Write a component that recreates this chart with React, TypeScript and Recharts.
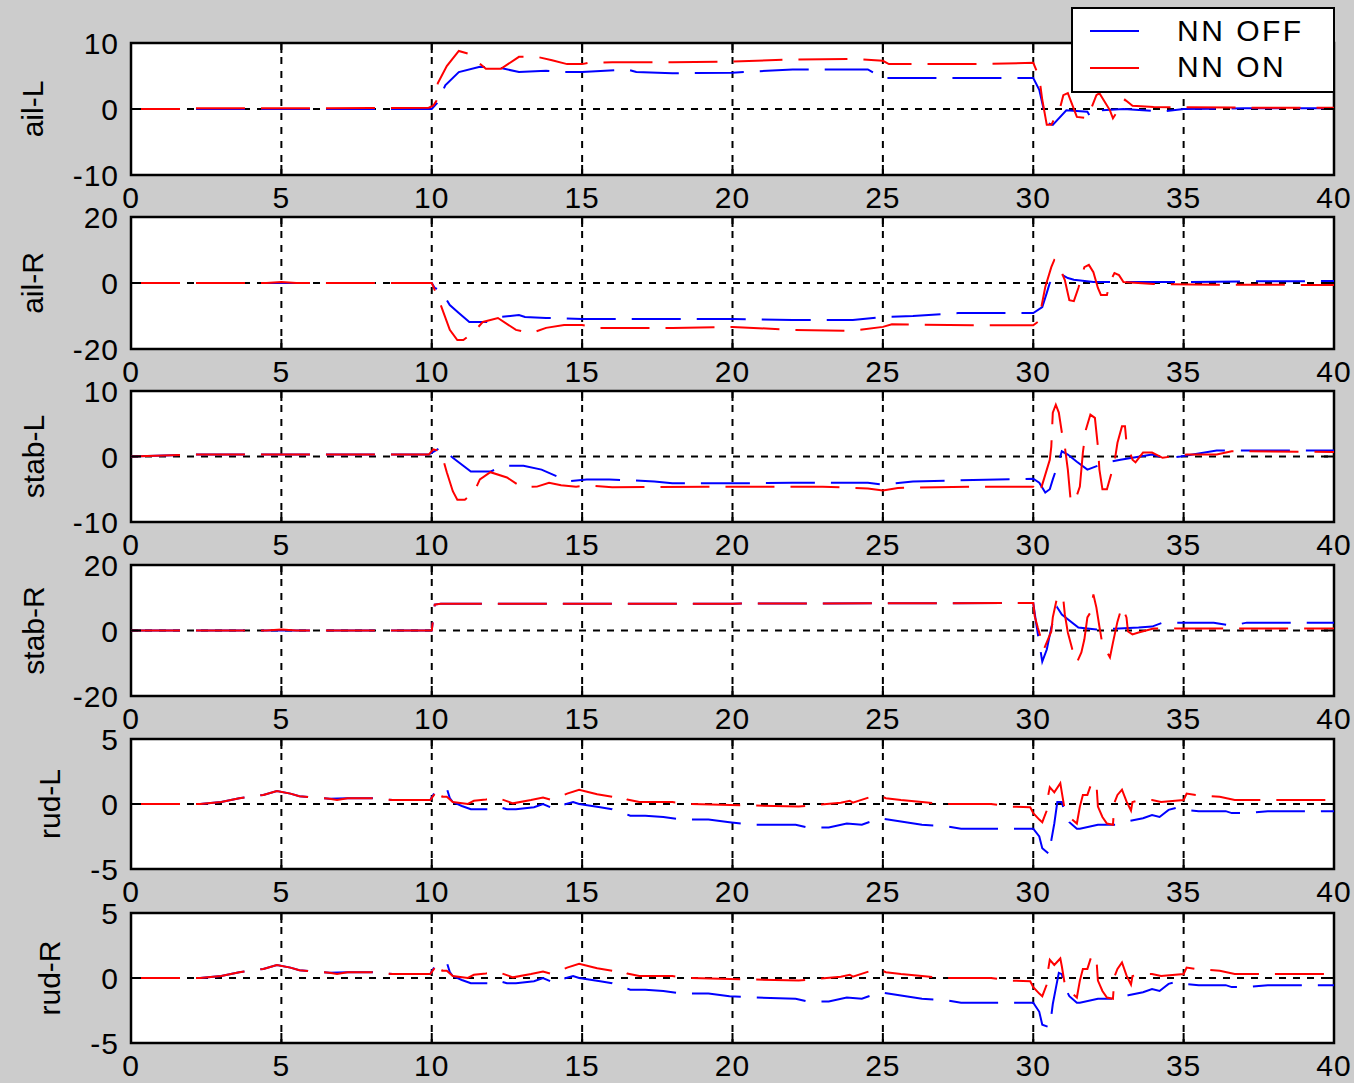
import React from "react";
import {
  LineChart,
  Line,
  XAxis,
  YAxis,
  CartesianGrid,
  ReferenceArea,
  Label,
} from "recharts";

type Pt = [number, number];

const xTicks = [0, 5, 10, 15, 20, 25, 30, 35, 40];

// ---- ail-L ----
const ailLOff: Pt[] = [
  [0, 0], [10, 0], [10.1, 0.5], [10.2, 1.0], [10.45, 3.6], [10.9, 5.6], [11.6, 6.4],
  [12.3, 6.2], [12.9, 5.6], [13.8, 5.8], [14.3, 5.6], [15, 5.6], [16.5, 6.0], [16.8, 5.6],
  [18, 5.4], [20, 5.5], [22, 6.0], [24.5, 6.0], [25, 4.7], [28, 4.7], [30, 4.7], [30.2, 2.9],
  [30.45, -2.1], [30.65, -2.4], [31.1, -0.2], [31.8, -0.4], [31.9, -1.2], [32.2, -0.2],
  [33, 0], [34.3, -0.4], [35, 0], [37, 0.1], [40, 0.1],
];
const ailLOn: Pt[] = [
  [0, 0], [1.7, 0], [2, 0.1], [5, 0.1], [8, 0.15], [9.9, 0.2], [10.05, 0.5], [10.15, 1.2],
  [10.2, 3.9], [10.5, 6.5], [10.9, 8.8], [11.2, 8.4], [11.8, 6.1], [12.3, 6.1], [12.9, 7.9],
  [13.5, 7.9], [14, 7.4], [14.5, 6.8], [15, 6.8], [15.2, 7.0], [16, 7.1], [18, 7.1], [20, 7.2],
  [22, 7.5], [24, 7.6], [25, 7.3], [25.2, 6.8], [28, 6.8], [30, 7.0], [30.2, 4.8], [30.3, 1.4],
  [30.45, -2.4], [30.6, -2.4], [30.9, 0.3], [31.0, 2.1], [31.15, 2.4], [31.45, -1.2],
  [31.8, -1.4], [32.1, 2.1], [32.2, 2.4], [32.55, -0.2], [32.65, -1.4], [33.05, 1.4],
  [33.3, 0.5], [34, 0.3], [37, 0.2], [40, 0.2],
];

// ---- ail-R ----
const ailROff: Pt[] = [
  [0, 0], [10, 0], [10.1, -1.5], [10.3, -2.2], [10.6, -6.7], [10.9, -9.1], [11.25, -11.8],
  [11.9, -11.8], [12.3, -10.3], [12.9, -9.7], [13.1, -10.3], [13.8, -10.6], [15, -10.9],
  [20, -10.9], [22, -11.2], [24, -11.2], [25, -10.3], [26, -10], [27.5, -9.1], [30, -9.1],
  [30.3, -7.3], [30.45, -3], [30.55, 0], [30.85, 3.0], [31.15, 1.5], [31.35, 1.0], [32, 0.3],
  [35, 0.3], [37, 0.5], [40, 0.6],
];
const ailROn: Pt[] = [
  [0, 0], [4.5, 0], [5, 0.3], [5.5, 0], [10, 0], [10.05, -1], [10.3, -6.7], [10.6, -14.2],
  [10.85, -17.3], [11.05, -17.3], [11.4, -14.8], [11.7, -11.8], [12.2, -10.6], [12.8, -14.2],
  [13.3, -15.2], [13.8, -13.6], [14.4, -12.7], [15, -12.7], [15.5, -13.6], [18, -13.6],
  [20, -13.3], [22, -14.2], [24, -14.5], [25, -13.3], [25.3, -12.5], [28, -12.8], [30, -12.8],
  [30.15, -11.8], [30.25, -8.2], [30.4, -1.2], [30.6, 4.8], [30.7, 7.0], [30.8, 6.4],
  [31.05, 0.9], [31.2, -5.2], [31.35, -5.5], [31.5, -1.5], [31.7, 4.8], [31.85, 5.5],
  [32.0, 3.3], [32.15, -1.5], [32.25, -3.6], [32.45, -3.6], [32.55, 0.3], [32.7, 3.0],
  [32.85, 2.4], [33.0, 0.3], [34, -0.3], [36, -0.5], [40, -0.6],
];

// ---- stab-L ----
const stabLOff: Pt[] = [
  [0, 0], [2, 0.3], [9.9, 0.3], [10.3, 1.4], [10.7, -0.2], [11.3, -2.3], [11.95, -2.3],
  [12.4, -1.4], [13.05, -1.4], [13.65, -2.0], [14.25, -3.2], [14.5, -3.8], [15.15, -3.5],
  [15.9, -3.5], [17.4, -3.8], [18, -4.1], [20, -4.1], [22, -4.0], [24.5, -4.0], [25, -4.3],
  [26, -3.8], [28, -3.6], [30, -3.4], [30.2, -4.0], [30.4, -5.5], [30.55, -5.0], [30.65, -3.5],
  [30.85, -0.8], [30.95, 0.8], [31.15, 0.3], [31.45, -0.8], [31.8, -2.0], [32.45, -0.9],
  [32.9, -0.5], [33.55, 0], [33.95, 0.3], [34.4, -0.3], [34.9, 0], [36.1, 0.9], [40, 0.9],
];
const stabLOn: Pt[] = [
  [0, 0], [2, 0.3], [9.9, 0.3], [10.05, 1.1], [10.3, 0.8], [10.5, -2.4], [10.7, -5.3],
  [10.85, -6.6], [11.1, -6.6], [11.4, -5.5], [11.6, -3.5], [11.95, -2.4], [12.5, -3.2],
  [13.0, -4.7], [13.5, -4.6], [13.9, -4.0], [14.3, -4.4], [14.8, -4.6], [15.2, -4.4],
  [16, -4.7], [20, -4.6], [23, -4.6], [24.5, -4.9], [25, -5.2], [25.5, -4.8], [28, -4.6],
  [30, -4.6], [30.2, -5.8], [30.55, -0.5], [30.6, 1.5], [30.65, 6.7], [30.75, 7.9],
  [30.85, 6.7], [30.95, 3.7], [31.05, 1.5], [31.15, -2.0], [31.25, -7.0], [31.4, -6.6],
  [31.55, -4.6], [31.65, 0.6], [31.75, 4.1], [31.9, 6.4], [32.05, 5.9], [32.15, 1.5],
  [32.2, -2.0], [32.3, -5.0], [32.45, -5.0], [32.7, -0.9], [32.8, 2.1], [32.95, 4.6],
  [33.05, 4.6], [33.1, 2.1], [33.3, -0.5], [33.4, -0.9], [33.65, 0.6], [33.95, 0.6],
  [34.3, -0.2], [34.6, 0], [35.1, 0.3], [36.1, 0.3], [36.6, 0.8], [40, 0.7],
];

// ---- stab-R ----
const stabROff: Pt[] = [
  [0, 0], [10, 0], [10.1, 7.9], [10.3, 8.2], [20, 8.2], [30, 8.4], [30.1, 2], [30.3, -9.5],
  [30.45, -5.8], [30.6, 0.9], [30.7, 4.0], [30.8, 7.0], [30.95, 4.9], [31.5, 0.9],
  [32.1, 0.3], [32.85, 0.6], [33.5, 0.9], [33.95, 1.2], [34.3, 2.4], [36, 2.4], [36.6, 1.5],
  [37.1, 2.4], [40, 2.4],
];
const stabROn: Pt[] = [
  [0, 0], [4.5, 0], [5, 0.3], [5.5, 0], [10, 0], [10.1, 7.9], [10.3, 8.2], [20, 8.2],
  [30, 8.4], [30.05, 4.3], [30.15, 0.9], [30.3, -3.7], [30.35, -5.8], [30.6, -0.3],
  [30.65, 4.0], [30.8, 10.4], [30.9, 11.0], [31.0, 9.5], [31.05, 4.9], [31.15, -0.6],
  [31.3, -5.8], [31.45, -9.8], [31.6, -6.7], [31.7, -2.7], [31.8, 4.0], [31.9, 5.5],
  [32.0, 11.0], [32.1, 7.0], [32.2, 1.2], [32.3, -4.3], [32.4, -5.8], [32.55, -8.2],
  [32.65, -3.7], [32.8, 2.7], [32.95, 7.3], [33.1, 4.0], [33.15, -0.3], [33.3, -1.2],
  [33.5, -0.6], [34, 0.6], [40, 0.6],
];

// ---- rud-L ----
const rudLOff: Pt[] = [
  [0, 0], [2.3, 0], [3.0, 0.15], [3.6, 0.45], [4.4, 0.7], [4.85, 1.0], [5.3, 0.8], [5.6, 0.6],
  [6.6, 0.4], [7.2, 0.45], [8.0, 0.45], [8.7, 0.3], [9.95, 0.3], [10.1, 0.9], [10.5, 1.2],
  [10.6, 0.45], [10.7, 0.15], [11.0, -0.15], [11.3, -0.4], [12.0, -0.4], [12.2, -0.2],
  [12.5, -0.4], [12.8, -0.4], [13.4, -0.25], [13.7, 0], [14.1, -0.4], [14.3, -0.1],
  [14.7, 0.15], [14.9, 0], [15.6, -0.25], [16.0, -0.4], [16.6, -0.9], [17.1, -0.9],
  [17.7, -1.0], [18.3, -1.2], [19.2, -1.2], [19.9, -1.4], [20.7, -1.6], [22.1, -1.6],
  [22.5, -1.8], [23.2, -1.8], [23.8, -1.5], [24.3, -1.6], [24.9, -1.1], [25.6, -1.35],
  [26.3, -1.6], [27.1, -1.7], [27.6, -1.9], [30.0, -1.9], [30.2, -2.5], [30.3, -3.4],
  [30.55, -3.9], [30.6, -2.8], [30.7, -1.5], [30.8, 0.15], [30.95, 0.15], [31.05, -0.7],
  [31.2, -1.4], [31.45, -1.9], [31.55, -1.9], [32.15, -1.6], [32.8, -1.6], [33.2, -1.3],
  [33.65, -1.1], [33.95, -0.85], [34.2, -1.0], [34.5, -0.45], [34.75, -0.3], [34.95, -0.45],
  [35.5, -0.55], [36.4, -0.55], [36.6, -0.7], [37.1, -0.7], [37.8, -0.55], [40, -0.55],
];
const rudLOn: Pt[] = [
  [0, 0], [2.3, 0], [3.0, 0.15], [3.6, 0.45], [4.4, 0.7], [4.85, 1.0], [5.3, 0.8], [5.6, 0.6],
  [6.6, 0.4], [6.85, 0.3], [7.2, 0.45], [8.0, 0.45], [8.7, 0.3], [9.95, 0.3], [10.2, 1.1],
  [10.3, 1.2], [10.35, 0.55], [10.5, 0.55], [10.7, 0.15], [11.2, 0], [11.4, 0.25],
  [11.8, 0.35], [12.15, 0.5], [12.4, 0.3], [12.7, 0.05], [13.3, 0.3], [13.7, 0.5],
  [14.0, 0.3], [14.5, 0.8], [14.9, 1.1], [15.5, 0.75], [16.0, 0.55], [16.25, 0.7],
  [16.5, 0.35], [16.9, 0.15], [18.0, 0.15], [18.5, 0], [20.5, -0.1], [22.2, -0.2],
  [23.6, 0.1], [23.9, 0.25], [24.0, 0.1], [24.8, 0.7], [25.1, 0.45], [25.6, 0.3],
  [26.3, 0.15], [27, 0], [28.6, 0], [29.2, -0.2], [29.9, -0.25], [30.0, -0.7], [30.2, -1.2],
  [30.3, -1.4], [30.45, -0.5], [30.5, 0.7], [30.55, 1.3], [30.7, 0.9], [30.9, 1.6],
  [30.95, 0.9], [31.05, -0.5], [31.2, -1.0], [31.45, -1.5], [31.55, -0.2], [31.65, 0.7],
  [31.8, 0.7], [31.95, 1.7], [32.1, 1.6], [32.15, -0.2], [32.3, -1.0], [32.45, -1.5],
  [32.65, -1.6], [32.7, 0.1], [32.8, 0.7], [32.95, 1.1], [33.1, 0.2], [33.25, -0.5],
  [33.3, 0.15], [33.55, 0.3], [33.95, 0.3], [34.25, 0.15], [35, 0.3], [35.1, 0.8],
  [35.4, 0.7], [36.2, 0.55], [36.7, 0.3], [40, 0.3],
];

// ---- rud-R ----
const rudROff: Pt[] = [
  [0, 0], [2.3, 0], [3.0, 0.15], [3.6, 0.45], [4.4, 0.7], [4.85, 1.0], [5.3, 0.8], [5.6, 0.6],
  [6.6, 0.4], [7.2, 0.45], [8.0, 0.45], [8.7, 0.3], [9.95, 0.3], [10.1, 0.9], [10.5, 1.2],
  [10.6, 0.45], [10.7, 0.15], [11.0, -0.15], [11.3, -0.4], [12.0, -0.4], [12.2, -0.2],
  [12.5, -0.4], [12.8, -0.4], [13.4, -0.25], [13.7, 0], [14.1, -0.4], [14.3, -0.1],
  [14.7, 0.15], [14.9, 0], [15.6, -0.25], [16.0, -0.4], [16.6, -0.9], [17.1, -0.9],
  [17.7, -1.0], [18.3, -1.2], [19.2, -1.2], [19.9, -1.4], [20.7, -1.5], [22.1, -1.6],
  [22.5, -1.8], [23.2, -1.8], [23.8, -1.5], [24.3, -1.6], [24.9, -1.1], [25.6, -1.35],
  [26.3, -1.6], [27.1, -1.7], [27.6, -1.9], [30.0, -1.9], [30.2, -2.6], [30.3, -3.6],
  [30.55, -3.8], [30.65, -2.0], [30.75, -0.8], [30.85, 0.4], [30.95, 0.3], [31.05, -0.7],
  [31.2, -1.4], [31.45, -1.9], [31.55, -1.9], [32.15, -1.6], [32.8, -1.6], [33.2, -1.3],
  [33.65, -1.1], [33.95, -0.85], [34.2, -1.0], [34.5, -0.45], [34.75, -0.3], [34.95, -0.45],
  [35.5, -0.55], [36.4, -0.55], [36.6, -0.7], [37.1, -0.7], [37.8, -0.55], [40, -0.55],
];
const rudROn: Pt[] = [
  [0, 0], [2.3, 0], [3.0, 0.15], [3.6, 0.45], [4.4, 0.7], [4.85, 1.0], [5.3, 0.8], [5.6, 0.6],
  [6.6, 0.4], [6.85, 0.3], [7.2, 0.45], [8.0, 0.45], [8.7, 0.3], [9.95, 0.3], [10.2, 1.1],
  [10.3, 1.2], [10.35, 0.55], [10.5, 0.55], [10.7, 0.15], [11.2, 0], [11.4, 0.25],
  [11.8, 0.35], [12.15, 0.5], [12.4, 0.3], [12.7, 0.05], [13.3, 0.3], [13.7, 0.5],
  [14.0, 0.3], [14.5, 0.8], [14.9, 1.1], [15.5, 0.75], [16.0, 0.55], [16.25, 0.7],
  [16.5, 0.35], [16.9, 0.15], [18.0, 0.15], [18.5, 0], [20.5, -0.1], [22.2, -0.2],
  [23.6, 0.1], [23.9, 0.25], [24.0, 0.1], [24.8, 0.7], [25.1, 0.45], [25.6, 0.3],
  [26.3, 0.15], [27, 0], [28.6, 0], [29.2, -0.2], [29.9, -0.25], [30.0, -0.7], [30.2, -1.2],
  [30.3, -1.4], [30.45, -0.5], [30.5, 0.7], [30.55, 1.4], [30.7, 1.0], [30.9, 1.5],
  [30.95, 0.9], [31.05, -0.5], [31.2, -1.0], [31.45, -1.5], [31.55, -0.2], [31.65, 0.7],
  [31.8, 0.7], [31.95, 1.8], [32.1, 1.5], [32.15, -0.2], [32.3, -1.0], [32.45, -1.5],
  [32.65, -1.6], [32.7, 0.1], [32.8, 0.7], [32.95, 1.2], [33.1, 0.2], [33.25, -0.5],
  [33.3, 0.15], [33.55, 0.3], [33.95, 0.3], [34.25, 0.15], [35, 0.3], [35.1, 0.8],
  [35.4, 0.7], [36.2, 0.55], [36.7, 0.3], [40, 0.3],
];

const panelNames = ["ail-L", "ail-R", "stab-L", "stab-R", "rud-L", "rud-R"];
const panelTicks = [
  [-10, 0, 10],
  [-20, 0, 20],
  [-10, 0, 10],
  [-20, 0, 20],
  [-5, 0, 5],
  [-5, 0, 5],
];
const offSeries = [ailLOff, ailROff, stabLOff, stabROff, rudLOff, rudROff];
const onSeries = [ailLOn, ailROn, stabLOn, stabROn, rudLOn, rudROn];

// layout (px)
const plotTops = [43, 217, 391, 565, 739, 913];
const plotHeights = [132, 132, 131, 131, 130, 130];
const labelXs = [43, 43, 44, 44, 60, 60];
const PLOT_LEFT = 131;
const PLOT_W = 1203;
const TOP_PAD = 20;
const X_AXIS_H = 45;

const FONT = '"Liberation Sans", Arial, Helvetica, sans-serif';
const BLUE = "#0000ff";
const RED = "#ff0000";
const DASH = "49 16";
const GRID_LINE = { stroke: "#000", strokeWidth: 2, strokeDasharray: "7 7" };

const toXY = (pts: Pt[]) => pts.map(([x, y]) => ({ x, y }));

interface PanelProps {
  index: number;
}

const Panel: React.FC<PanelProps> = ({ index }) => {
  const ticks = panelTicks[index];
  const plotH = plotHeights[index];
  const lo = ticks[0];
  const hi = ticks[ticks.length - 1];

  const XTick = (props: any) => {
    const { x, y, payload } = props;
    return (
      <g>
        <line x1={x} x2={x} y1={y} y2={y - 10} stroke="#000" strokeWidth={2} />
        <line x1={x} x2={x} y1={y - plotH} y2={y - plotH + 10} stroke="#000" strokeWidth={2} />
        <text
          x={x}
          y={y + 33}
          textAnchor="middle"
          fontSize={30}
          letterSpacing={1}
          fontFamily={FONT}
          fill="#000"
        >
          {payload.value}
        </text>
      </g>
    );
  };

  const YTick = (props: any) => {
    const { x, y, payload } = props;
    return (
      <g>
        <line x1={x} x2={x + 10} y1={y} y2={y} stroke="#000" strokeWidth={2} />
        <line x1={x + PLOT_W} x2={x + PLOT_W - 10} y1={y} y2={y} stroke="#000" strokeWidth={2} />
        <text
          x={x - 12}
          y={y + 11}
          textAnchor="end"
          fontSize={30}
          letterSpacing={1}
          fontFamily={FONT}
          fill="#000"
        >
          {payload.value}
        </text>
      </g>
    );
  };

  const labelX = labelXs[index];
  const labelY = TOP_PAD + plotH / 2;

  return (
    <div style={{ position: "absolute", left: 0, top: plotTops[index] - TOP_PAD }}>
      <LineChart
        width={PLOT_LEFT + PLOT_W + 20}
        height={TOP_PAD + plotH + X_AXIS_H}
        margin={{ top: TOP_PAD, right: 20, bottom: 0, left: 0 }}
      >
        <CartesianGrid
          fill="#ffffff"
          stroke="#000"
          strokeWidth={2}
          strokeDasharray="7 7"
          horizontal={GRID_LINE}
          vertical={GRID_LINE}
        />
        <XAxis
          type="number"
          dataKey="x"
          domain={[0, 40]}
          ticks={xTicks}
          interval={0}
          height={X_AXIS_H}
          tickSize={0}
          tickMargin={0}
          axisLine={false}
          tickLine={false}
          tick={XTick}
          allowDataOverflow
        />
        <YAxis
          type="number"
          domain={[lo, hi]}
          ticks={ticks}
          interval={0}
          width={PLOT_LEFT}
          tickSize={0}
          tickMargin={0}
          axisLine={false}
          tickLine={false}
          tick={YTick}
          allowDataOverflow
        >
          <Label
            content={() => (
              <text
                x={labelX}
                y={labelY}
                transform={`rotate(-90, ${labelX}, ${labelY})`}
                textAnchor="middle"
                fontSize={30}
                fontFamily={FONT}
                fill="#000"
              >
                {panelNames[index]}
              </text>
            )}
          />
        </YAxis>
        <ReferenceArea
          x1={0}
          x2={40}
          y1={lo}
          y2={hi}
          fill="none"
          fillOpacity={0}
          stroke="#000"
          strokeWidth={2.5}
        />
        <Line
          data={toXY(offSeries[index])}
          dataKey="y"
          name="NN OFF"
          type="linear"
          stroke={BLUE}
          strokeWidth={2}
          strokeDasharray={DASH}
          dot={false}
          activeDot={false}
          isAnimationActive={false}
        />
        <Line
          data={toXY(onSeries[index])}
          dataKey="y"
          name="NN ON"
          type="linear"
          stroke={RED}
          strokeWidth={2}
          strokeDasharray={DASH}
          dot={false}
          activeDot={false}
          isAnimationActive={false}
        />
      </LineChart>
    </div>
  );
};

const LegendBox = () => (
  <svg
    width={1354}
    height={100}
    style={{ position: "absolute", left: 0, top: 0, pointerEvents: "none" }}
  >
    <rect x={1072} y={8} width={262} height={84} fill="#fff" stroke="#000" strokeWidth={2} />
    <line x1={1090} x2={1139} y1={31} y2={31} stroke={BLUE} strokeWidth={2} />
    <text x={1177} y={41} fontSize={30} letterSpacing={2.5} fontFamily={FONT} fill="#000">
      NN OFF
    </text>
    <line x1={1090} x2={1139} y1={68} y2={68} stroke={RED} strokeWidth={2} />
    <text x={1177} y={77} fontSize={30} letterSpacing={2.5} fontFamily={FONT} fill="#000">
      NN ON
    </text>
  </svg>
);

const App: React.FC = () => {
  return (
    <div
      style={{
        position: "relative",
        width: 1354,
        height: 1083,
        background: "#cccccc",
        overflow: "hidden",
      }}
    >
      <style>{`body { margin: 0; }`}</style>
      {panelNames.map((_, i) => (
        <Panel key={i} index={i} />
      ))}
      <LegendBox />
    </div>
  );
};

export default App;
